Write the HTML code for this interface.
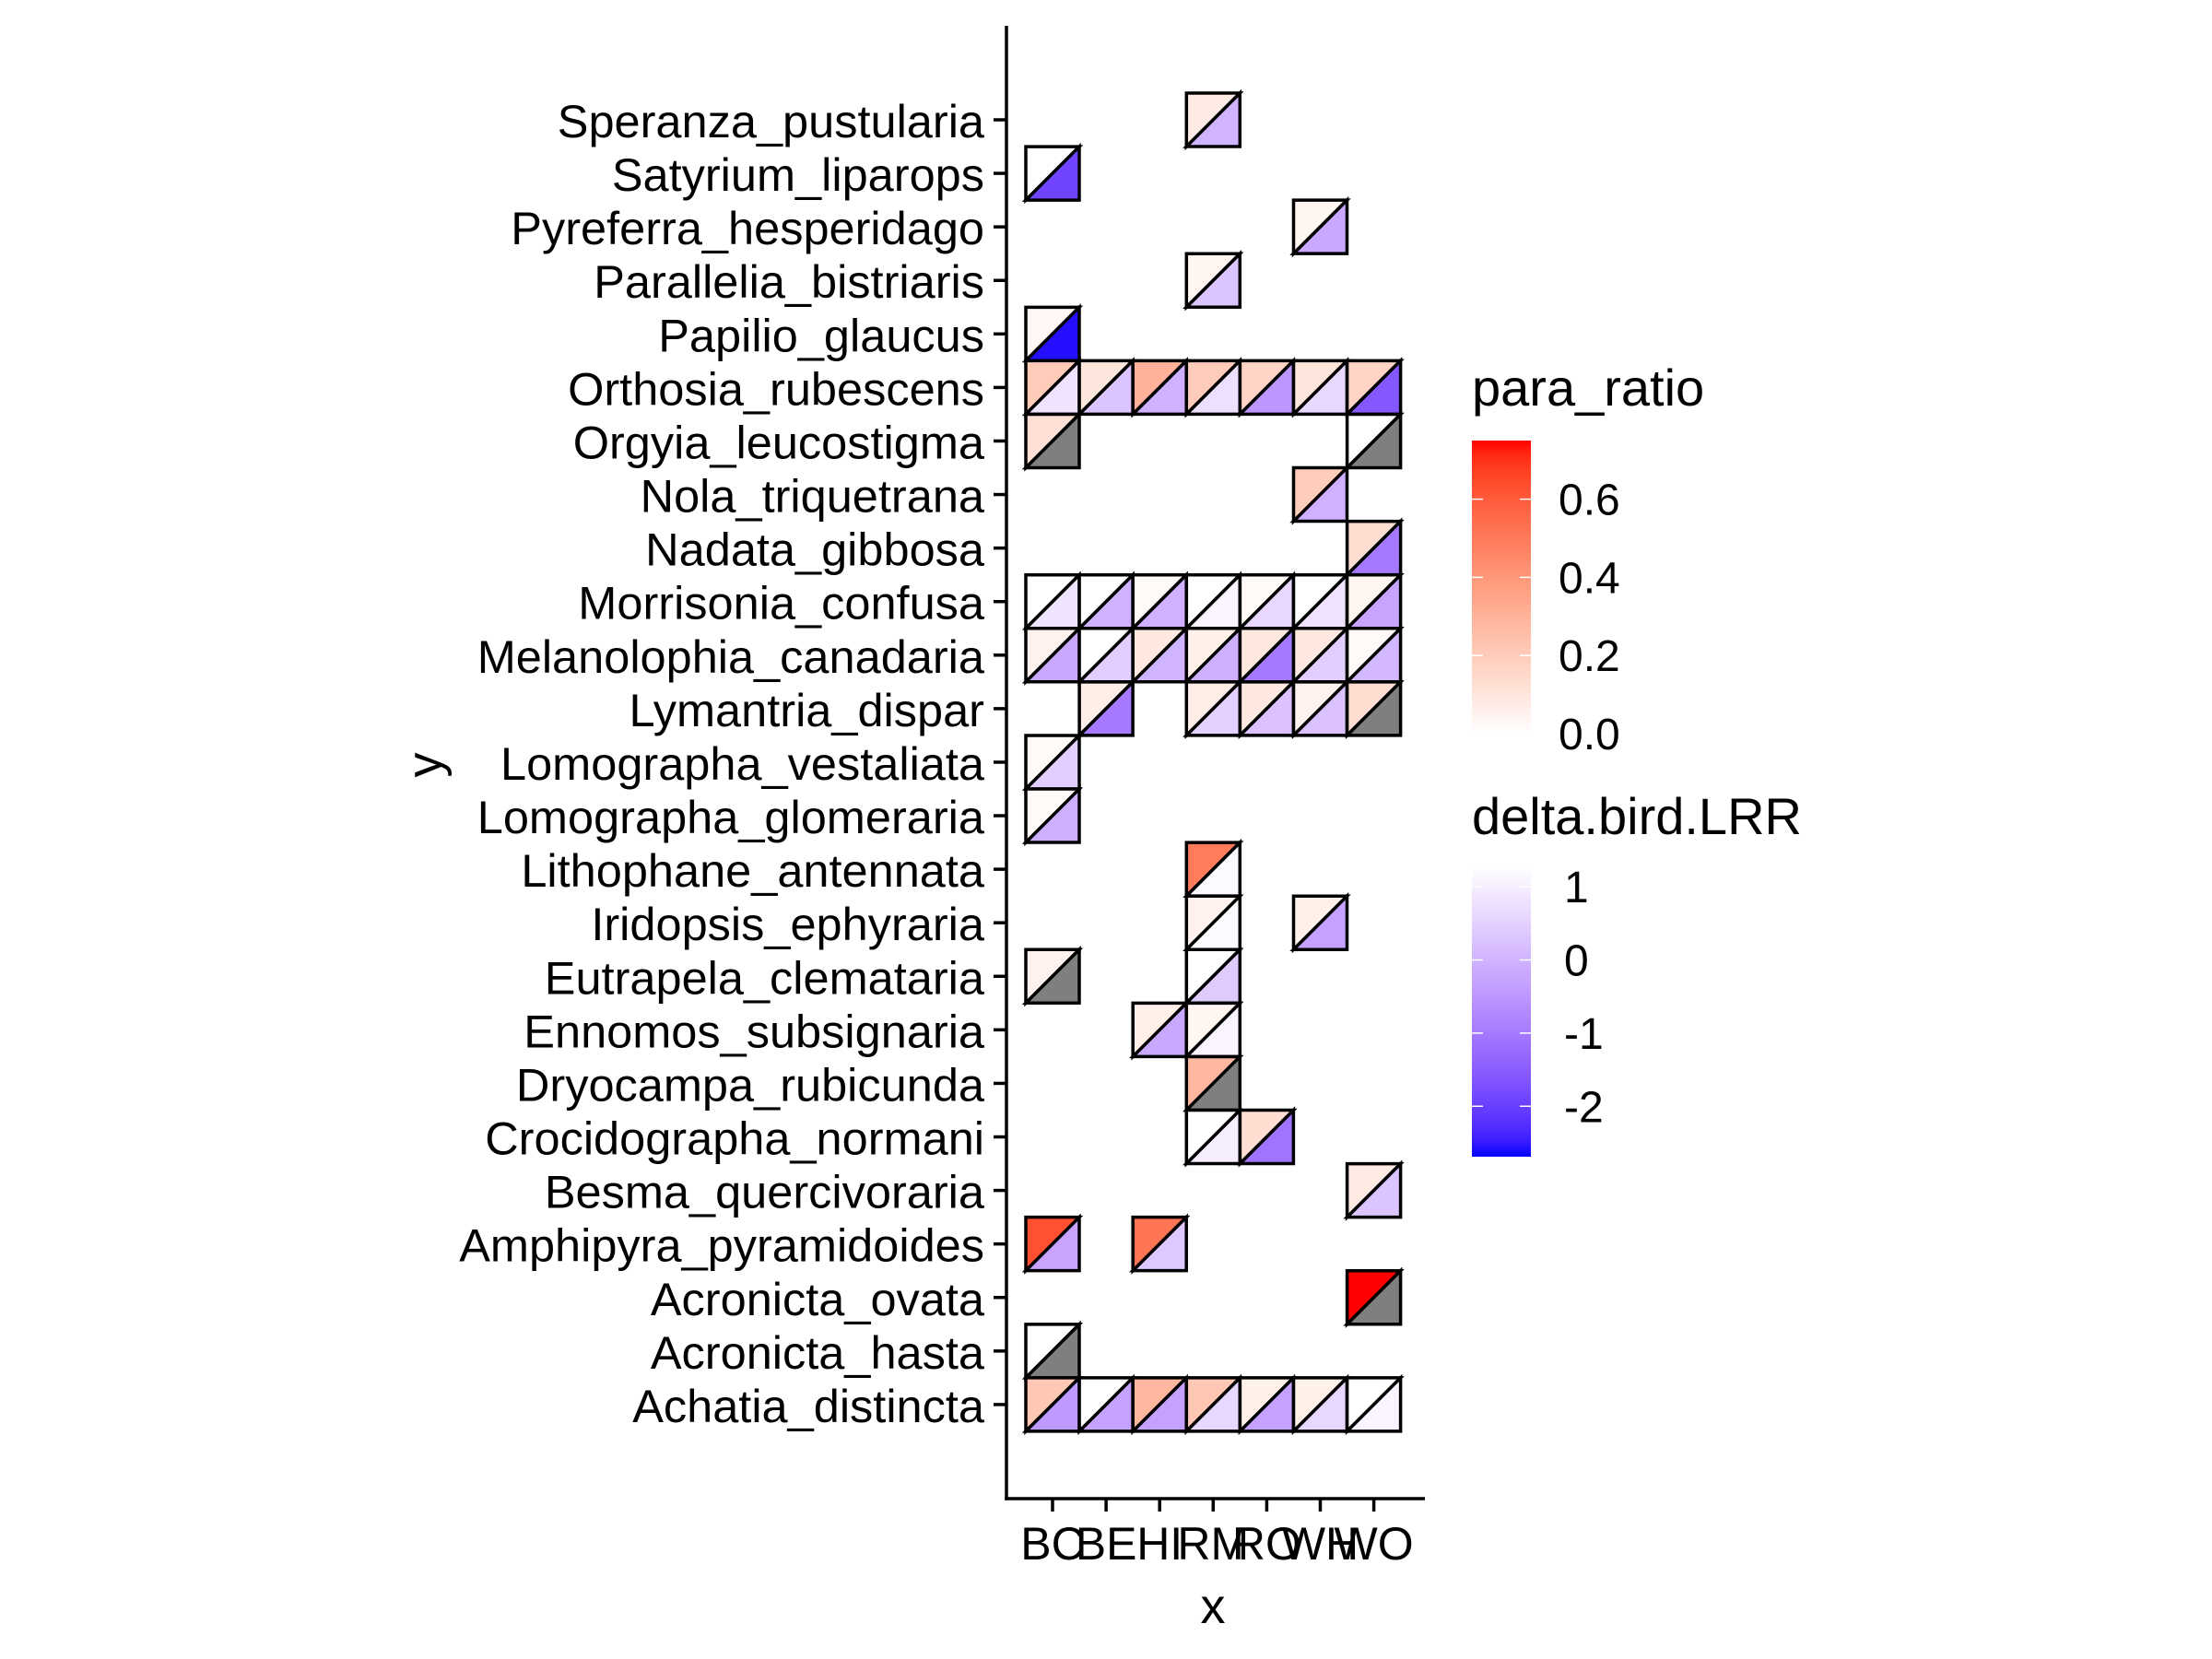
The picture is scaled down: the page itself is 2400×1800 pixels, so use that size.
<!DOCTYPE html>
<html><head><meta charset="utf-8"><style>
html,body{margin:0;padding:0;background:#fff;}
svg{display:block;font-family:"Liberation Sans",Arial,sans-serif;}
</style></head><body>
<svg id="chart" width="2400" height="1800" viewBox="0 0 2400 1800" xmlns="http://www.w3.org/2000/svg">
<defs>
<linearGradient id="gPara" x1="0" y1="1" x2="0" y2="0"></linearGradient>
<linearGradient id="gDelta" x1="0" y1="1" x2="0" y2="0"></linearGradient>
</defs>
<g id="tiles"></g>
<g id="axes"></g>
<g id="legend"></g>
</svg>
<script>
const xCats = ["BC","BE","HI","RM","RO","WH","WO"];
const yCats = ["Speranza_pustularia","Satyrium_liparops","Pyreferra_hesperidago","Parallelia_bistriaris","Papilio_glaucus","Orthosia_rubescens","Orgyia_leucostigma","Nola_triquetrana","Nadata_gibbosa","Morrisonia_confusa","Melanolophia_canadaria","Lymantria_dispar","Lomographa_vestaliata","Lomographa_glomeraria","Lithophane_antennata","Iridopsis_ephyraria","Eutrapela_clemataria","Ennomos_subsignaria","Dryocampa_rubicunda","Crocidographa_normani","Besma_quercivoraria","Amphipyra_pyramidoides","Acronicta_ovata","Acronicta_hasta","Achatia_distincta"];
const cellX = ["RM","BC","WH","RM","BC",
 "BC","BE","HI","RM","RO","WH","WO",
 "BC","WO","WH","WO",
 "BC","BE","HI","RM","RO","WH","WO",
 "BC","BE","HI","RM","RO","WH","WO",
 "BE","RM","RO","WH","WO",
 "BC","BC","RM","RM","WH","BC","RM","HI","RM","RM","RM","RO","WO","BC","HI","WO","BC",
 "BC","BE","HI","RM","RO","WH","WO"];
const cellY = ["Speranza_pustularia","Satyrium_liparops","Pyreferra_hesperidago","Parallelia_bistriaris","Papilio_glaucus",
 "Orthosia_rubescens","Orthosia_rubescens","Orthosia_rubescens","Orthosia_rubescens","Orthosia_rubescens","Orthosia_rubescens","Orthosia_rubescens",
 "Orgyia_leucostigma","Orgyia_leucostigma","Nola_triquetrana","Nadata_gibbosa",
 "Morrisonia_confusa","Morrisonia_confusa","Morrisonia_confusa","Morrisonia_confusa","Morrisonia_confusa","Morrisonia_confusa","Morrisonia_confusa",
 "Melanolophia_canadaria","Melanolophia_canadaria","Melanolophia_canadaria","Melanolophia_canadaria","Melanolophia_canadaria","Melanolophia_canadaria","Melanolophia_canadaria",
 "Lymantria_dispar","Lymantria_dispar","Lymantria_dispar","Lymantria_dispar","Lymantria_dispar",
 "Lomographa_vestaliata","Lomographa_glomeraria","Lithophane_antennata","Iridopsis_ephyraria","Iridopsis_ephyraria","Eutrapela_clemataria","Eutrapela_clemataria","Ennomos_subsignaria","Ennomos_subsignaria","Dryocampa_rubicunda","Crocidographa_normani","Crocidographa_normani","Besma_quercivoraria","Amphipyra_pyramidoides","Amphipyra_pyramidoides","Acronicta_ovata","Acronicta_hasta",
 "Achatia_distincta","Achatia_distincta","Achatia_distincta","Achatia_distincta","Achatia_distincta","Achatia_distincta","Achatia_distincta"];
const paraVals = [0.08,0.0,0.04,0.04,0.03,
 0.2,0.1,0.3,0.2,0.17,0.1,0.17,
 0.12,0.0,0.2,0.13,
 0.0,0.0,0.02,0.0,0.02,0.0,0.04,
 0.05,0.0,0.09,0.06,0.09,0.09,0.02,
 0.07,0.07,0.09,0.05,0.13,
 0.02,0.02,0.5,0.05,0.06,0.05,0.0,0.06,0.04,0.28,0.0,0.13,0.08,0.63,0.52,0.75,0.0,
 0.22,0.0,0.28,0.22,0.06,0.06,0.0];
const deltaVals = [0.0,-1.9,-0.2,0.3,-2.6,
 0.8,0.3,-0.05,0.75,-0.5,0.6,-1.6,
 null,null,-0.05,-1.0,
 0.8,-0.05,-0.05,1.1,0.6,0.8,-0.25,
 -0.2,0.45,0.0,-0.1,-1.0,0.45,0.05,
 -1.0,0.5,0.25,0.25,null,
 0.45,-0.1,1.2,1.2,-0.3,null,0.4,-0.2,1.1,null,1.0,-1.1,0.3,-0.25,0.35,null,null,
 -0.45,-0.3,-0.3,0.6,-0.3,0.6,1.1];
const paraTicks = [0,0.2,0.4,0.6];
const paraTickLabels = ["0.0","0.2","0.4","0.6"];
const deltaTicks = [1,0,-1,-2];
const deltaTickLabels = ["1","0","-1","-2"];
const paraDomain = [0, 0.75];
const deltaDomain = [-2.69, 1.28];

const NS="http://www.w3.org/2000/svg";
function mk(tag, attrs, parent){const e=document.createElementNS(NS,tag);for(const k in attrs)e.setAttribute(k,attrs[k]);parent.appendChild(e);return e;}
function s2l(c){c/=255;return c<=0.04045?c/12.92:Math.pow((c+0.055)/1.055,2.4);}
function l2s(c){c=c<=0.0031308?12.92*c:1.055*Math.pow(c,1/2.4)-0.055;return Math.max(0,Math.min(255,Math.round(c*255)));}
function toLab(hex){const r=s2l(parseInt(hex.substr(1,2),16)),g=s2l(parseInt(hex.substr(3,2),16)),b=s2l(parseInt(hex.substr(5,2),16));
 let X=(0.4124*r+0.3576*g+0.1805*b)/0.95047,Y=(0.2126*r+0.7152*g+0.0722*b),Z=(0.0193*r+0.1192*g+0.9505*b)/1.08883;
 const f=t=>t>0.008856?Math.cbrt(t):7.787*t+16/116;X=f(X);Y=f(Y);Z=f(Z);return [116*Y-16,500*(X-Y),200*(Y-Z)];}
function fromLab(L){let Y=(L[0]+16)/116,X=L[1]/500+Y,Z=Y-L[2]/200;const fi=t=>t*t*t>0.008856?t*t*t:(t-16/116)/7.787;
 X=fi(X)*0.95047;Y=fi(Y);Z=fi(Z)*1.08883;
 const r=3.2406*X-1.5372*Y-0.4986*Z,g=-0.9689*X+1.8758*Y+0.0415*Z,b=0.0557*X-0.2040*Y+1.0570*Z;
 return "rgb("+l2s(r)+","+l2s(g)+","+l2s(b)+")";}
function grad(lo,hi,t){t=Math.max(0,Math.min(1,t));const a=toLab(lo),b=toLab(hi);return fromLab([a[0]+(b[0]-a[0])*t,a[1]+(b[1]-a[1])*t,a[2]+(b[2]-a[2])*t]);}
function paraColor(v){return grad("#FFFFFF","#FF0000",(v-paraDomain[0])/(paraDomain[1]-paraDomain[0]));}
function deltaColor(v){if(v===null)return "#7F7F7F";return grad("#0000FF","#FFFFFF",(v-deltaDomain[0])/(deltaDomain[1]-deltaDomain[0]));}

const X0=1142, XSTEP=58.1, Y0=130, YSTEP=58.08, HALF=29;
function xScale(c){return X0+xCats.indexOf(c)*XSTEP;}
function yScale(c){return Y0+yCats.indexOf(c)*YSTEP;}

const tiles=document.getElementById('tiles');
for(let i=0;i<cellX.length;i++){
 const cx=xScale(cellX[i]), cy=yScale(cellY[i]);
 const x0=cx-HALF,x1=cx+HALF,y0=cy-HALF,y1=cy+HALF;
 const g=mk('g',{},tiles);
 
 
 const a=mk('polygon',{points:`${x0},${y0} ${x1},${y0} ${x0},${y1}`,fill:paraColor(paraVals[i]),stroke:'#000','stroke-width':3.5},g);
 
 
 const b=mk('polygon',{points:`${x1},${y0} ${x1},${y1} ${x0},${y1}`,fill:deltaColor(deltaVals[i]),stroke:'#000','stroke-width':3.5},g);
 
 
}

const axes=document.getElementById('axes');
const AX=1092, AY=1626;
let l=mk('line',{x1:AX,y1:28,x2:AX,y2:AY+1.75,stroke:'#000','stroke-width':3.5},axes);

l=mk('line',{x1:AX-1.75,y1:AY,x2:1546,y2:AY,stroke:'#000','stroke-width':3.5},axes);

yCats.forEach(c=>{const y=yScale(c);
 const t=mk('line',{x1:AX-14,y1:y,x2:AX,y2:y,stroke:'#000','stroke-width':3.5},axes);
 
 const tx=mk('text',{x:1068,y:y+19,'text-anchor':'end','font-size':50.5,fill:'#000'},axes);tx.textContent=c;
 });
xCats.forEach(c=>{const x=xScale(c);
 const t=mk('line',{x1:x,y1:AY,x2:x,y2:AY+14,stroke:'#000','stroke-width':3.5},axes);
 
 const tx=mk('text',{x:x,y:1692,'text-anchor':'middle','font-size':50,fill:'#000'},axes);tx.textContent=c;
 });
let tt=mk('text',{x:1316,y:1761,'text-anchor':'middle','font-size':54,fill:'#000'},axes);tt.textContent='x';

tt=mk('text',{x:0,y:0,'text-anchor':'middle','font-size':54,fill:'#000',transform:'translate(479,830) rotate(-90)'},axes);tt.textContent='y';


const lg=document.getElementById('legend');
const gp=document.getElementById('gPara'), gd=document.getElementById('gDelta');
for(let k=0;k<=20;k++){const t=k/20;
 mk('stop',{offset:t,'stop-color':grad("#FFFFFF","#FF0000",t)},gp);
 mk('stop',{offset:t,'stop-color':grad("#0000FF","#FFFFFF",t)},gd);}
const LX=1597, LW=64;
const pTop=478,pBot=796,dTop=940,dBot=1255;
function pY(v){return pBot-(v-paraDomain[0])/(paraDomain[1]-paraDomain[0])*(pBot-pTop);}
function dY(v){return dBot-(v-deltaDomain[0])/(deltaDomain[1]-deltaDomain[0])*(dBot-dTop);}
tt=mk('text',{x:LX,y:440,'font-size':56,fill:'#000'},lg);tt.textContent='para_ratio';

let r=mk('rect',{x:LX,y:pTop,width:LW,height:pBot-pTop,fill:'url(#gPara)'},lg);

paraTicks.forEach((v,i)=>{const y=pY(v);
 mk('line',{x1:LX,y1:y,x2:LX+12,y2:y,stroke:'#fff','stroke-width':1.5},lg);
 mk('line',{x1:LX+LW-12,y1:y,x2:LX+LW,y2:y,stroke:'#fff','stroke-width':1.5},lg);
 const tx=mk('text',{x:1691,y:y+17,'font-size':48,fill:'#000'},lg);tx.textContent=paraTickLabels[i];
 });
tt=mk('text',{x:LX,y:905,'font-size':56,fill:'#000'},lg);tt.textContent='delta.bird.LRR';

r=mk('rect',{x:LX,y:dTop,width:LW,height:dBot-dTop,fill:'url(#gDelta)'},lg);

deltaTicks.forEach((v,i)=>{const y=dY(v);
 mk('line',{x1:LX,y1:y,x2:LX+12,y2:y,stroke:'#fff','stroke-width':1.5},lg);
 mk('line',{x1:LX+LW-12,y1:y,x2:LX+LW,y2:y,stroke:'#fff','stroke-width':1.5},lg);
 const tx=mk('text',{x:1697,y:y+17,'font-size':48,fill:'#000'},lg);tx.textContent=deltaTickLabels[i];
 });
</script>
</body></html>
